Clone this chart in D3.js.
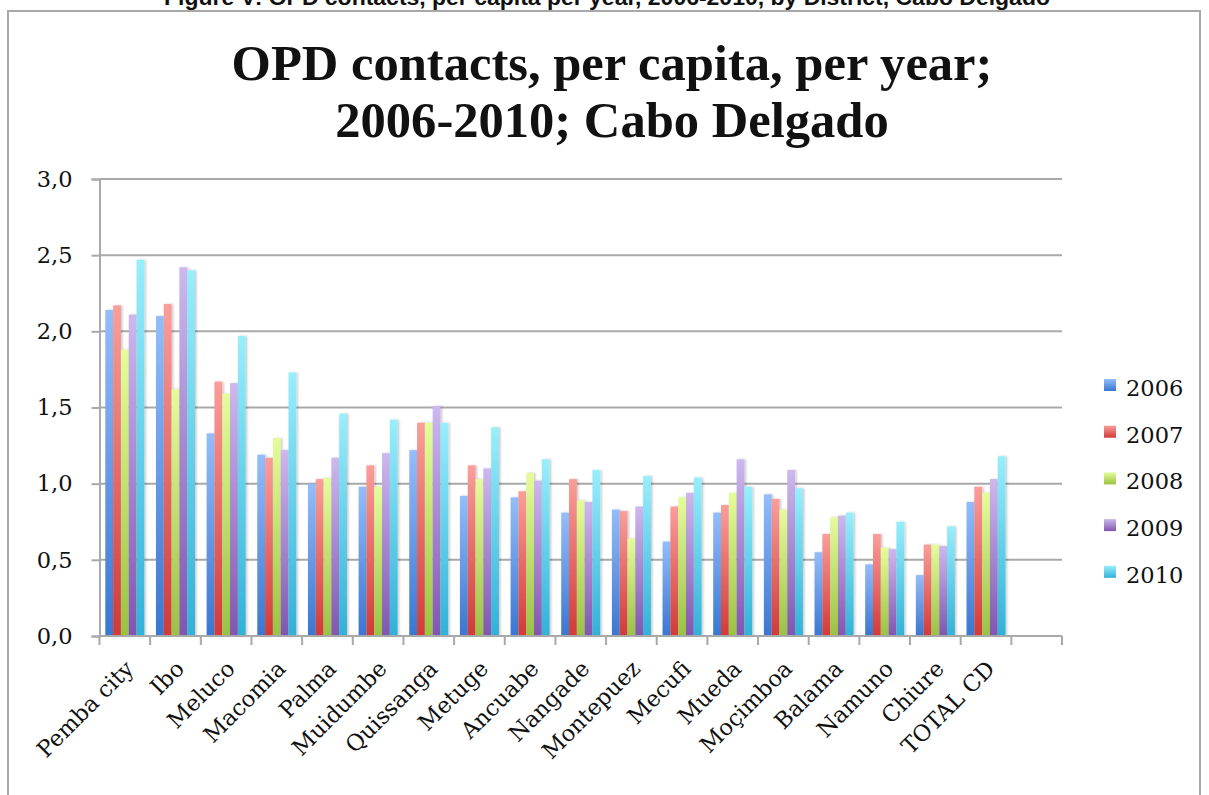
<!DOCTYPE html>
<html>
<head>
<meta charset="utf-8">
<script src="https://cdn.jsdelivr.net/npm/d3@7/dist/d3.min.js"></script>
<style>
  html, body { margin: 0; padding: 0; background: #fff; }
  svg { display: block; }
</style>
</head>
<body>
<svg id="chart" width="1209" height="795"></svg>
<script>
// OPD contacts per capita per year, by district, Cabo Delgado 2006-2010
const years = ["2006", "2007", "2008", "2009", "2010"];
const districts = ["Pemba city", "Ibo", "Meluco", "Macomia", "Palma", "Muidumbe",
  "Quissanga", "Metuge", "Ancuabe", "Nangade", "Montepuez", "Mecufi", "Mueda",
  "Moçimboa", "Balama", "Namuno", "Chiure", "TOTAL CD"];
const v2006 = [2.14, 2.10, 1.33, 1.19, 1.00, 0.98, 1.22, 0.92, 0.91, 0.81, 0.83, 0.62, 0.81, 0.93, 0.55, 0.47, 0.40, 0.88];
const v2007 = [2.17, 2.18, 1.67, 1.17, 1.03, 1.12, 1.40, 1.12, 0.95, 1.03, 0.82, 0.85, 0.86, 0.90, 0.67, 0.67, 0.60, 0.98];
const v2008 = [1.88, 1.62, 1.59, 1.30, 1.04, 0.98, 1.40, 1.03, 1.07, 0.89, 0.64, 0.91, 0.94, 0.83, 0.78, 0.58, 0.60, 0.94];
const v2009 = [2.11, 2.42, 1.66, 1.22, 1.17, 1.20, 1.51, 1.10, 1.02, 0.88, 0.85, 0.94, 1.16, 1.09, 0.79, 0.57, 0.59, 1.03];
const v2010 = [2.47, 2.40, 1.97, 1.73, 1.46, 1.42, 1.40, 1.37, 1.16, 1.09, 1.05, 1.04, 0.98, 0.97, 0.81, 0.75, 0.72, 1.18];
const yTicks = [0, 0.5, 1.0, 1.5, 2.0, 2.5, 3.0];
const captionText = "Figure V: OPD contacts, per capita per year, 2006-2010, by District, Cabo Delgado";
const titleLines = ["OPD contacts, per capita, per year;", "2006-2010; Cabo Delgado"];

const seriesValues = [v2006, v2007, v2008, v2009, v2010];
// gradient stops per series: light top, deep bottom
const seriesColors = [
  ["#94bdfa", "#3a76d0"],
  ["#fa9e9a", "#d03a38"],
  ["#e6fc9c", "#9ac243"],
  ["#ccb8ee", "#8056b0"],
  ["#98eefc", "#31b1d8"]
];

const svg = d3.select("#chart");
const serif = "'Liberation Serif', 'Times New Roman', serif";
const axisFont = "'DejaVu Serif', serif";
const axisSize = 22.5;
const gridColor = "#a9a9a9";

const plot = { left: 99.5, right: 1062, top: 179, bottom: 636 };

// one spare slot after the last district keeps the axis running on
const slots = districts.concat([""]);
const x = d3.scaleBand().domain(slots).range([plot.left, plot.right]).paddingInner(0).paddingOuter(0);
const xs = d3.scaleBand().domain(years).range([0, x.bandwidth()]).paddingInner(0).paddingOuter(0.745);
const y = d3.scaleLinear().domain([0, 3]).range([plot.bottom, plot.top]);

const defs = svg.append("defs");
years.forEach((yr, i) => {
  const g = defs.append("linearGradient").attr("id", "grad" + yr)
    .attr("x1", 0).attr("y1", 0).attr("x2", 0).attr("y2", 1);
  g.append("stop").attr("offset", "0%").attr("stop-color", seriesColors[i][0]);
  g.append("stop").attr("offset", "100%").attr("stop-color", seriesColors[i][1]);
});
const sh = defs.append("filter").attr("id", "barShadow")
  .attr("x", "-50%").attr("y", "-5%").attr("width", "200%").attr("height", "110%");
sh.append("feDropShadow").attr("dx", 1.5).attr("dy", 0).attr("stdDeviation", 1.2)
  .attr("flood-color", "#000").attr("flood-opacity", 0.22);

// frame around the figure
svg.append("path")
  .attr("d", "M8,795 L8,11 L1200,11 L1200,795")
  .attr("fill", "none").attr("stroke", "#a8a8a8").attr("stroke-width", 2);

// figure caption, its upper part running off the top edge
function fitText(sel, targetWidth) {
  const w = sel.node().getComputedTextLength();
  const fs = parseFloat(sel.attr("font-size"));
  sel.attr("font-size", fs * targetWidth / w);
}
const caption = svg.append("text")
  .attr("x", 607).attr("y", 5).attr("text-anchor", "middle")
  .attr("font-family", "'Liberation Sans', Arial, sans-serif").attr("font-weight", "bold")
  .attr("font-size", 18).attr("fill", "#111").text(captionText);
fitText(caption, 886);

// chart title
const t1 = svg.append("text").attr("x", 612).attr("y", 80).attr("text-anchor", "middle")
  .attr("font-family", serif).attr("font-weight", "bold").attr("font-size", 44)
  .attr("fill", "#111").text(titleLines[0]);
fitText(t1, 761);
svg.append("text").attr("x", 612).attr("y", 137).attr("text-anchor", "middle")
  .attr("font-family", serif).attr("font-weight", "bold").attr("font-size", t1.attr("font-size"))
  .attr("fill", "#111").text(titleLines[1]);

// horizontal gridlines
svg.append("g").selectAll("line").data(yTicks.filter(d => d > 0)).join("line")
  .attr("x1", plot.left).attr("x2", plot.right)
  .attr("y1", d => y(d)).attr("y2", d => y(d))
  .attr("stroke", gridColor).attr("stroke-width", 2);

// bars
const groups = svg.append("g").selectAll("g").data(districts).join("g")
  .attr("transform", d => `translate(${x(d)},0)`);
groups.selectAll("rect")
  .data((d, i) => years.map((yr, k) => ({ yr, v: seriesValues[k][i] })))
  .join("rect")
  .attr("x", d => xs(d.yr))
  .attr("width", xs.bandwidth())
  .attr("y", d => y(d.v))
  .attr("height", d => y(0) - y(d.v))
  .attr("fill", d => `url(#grad${d.yr})`)
  .attr("filter", "url(#barShadow)");

// y axis
const yAxis = svg.append("g").attr("transform", `translate(${plot.left},0)`)
  .call(d3.axisLeft(y).tickValues(yTicks).tickSize(8).tickPadding(19)
    .tickFormat(d => d3.format(".1f")(d).replace(".", ",")));
yAxis.select(".domain").attr("stroke", gridColor).attr("stroke-width", 2);
yAxis.selectAll(".tick line").attr("stroke", gridColor).attr("stroke-width", 2);
yAxis.selectAll(".tick text").attr("font-family", axisFont).attr("font-size", axisSize).attr("fill", "#111");

// x axis with ticks between categories
const xAxis = svg.append("g").attr("transform", `translate(0,${plot.bottom})`);
xAxis.append("line").attr("x1", plot.left).attr("x2", plot.right)
  .attr("stroke", gridColor).attr("stroke-width", 2);
const boundaries = slots.map(s => x(s)).concat([plot.right]);
xAxis.selectAll("line.tk").data(boundaries).join("line").attr("class", "tk")
  .attr("x1", d => d).attr("x2", d => d).attr("y1", 0).attr("y2", 9)
  .attr("stroke", gridColor).attr("stroke-width", 2);
xAxis.selectAll("text").data(districts).join("text")
  .attr("transform", d => `translate(${x(d) + x.bandwidth() / 2 - 1},${23}) rotate(-45)`)
  .attr("text-anchor", "end").attr("dy", "0.7em")
  .attr("font-family", axisFont).attr("font-size", axisSize).attr("fill", "#111")
  .text(d => d);

// legend
const legend = svg.append("g").selectAll("g").data(years).join("g")
  .attr("transform", (d, i) => `translate(1104,${396 + i * 46.7})`);
legend.append("rect").attr("x", 0).attr("y", -17).attr("width", 12).attr("height", 12)
  .attr("fill", d => `url(#grad${d})`);
legend.append("text").attr("x", 22).attr("y", 0)
  .attr("font-family", axisFont).attr("font-size", axisSize).attr("fill", "#111")
  .text(d => d);
</script>
</body>
</html>
